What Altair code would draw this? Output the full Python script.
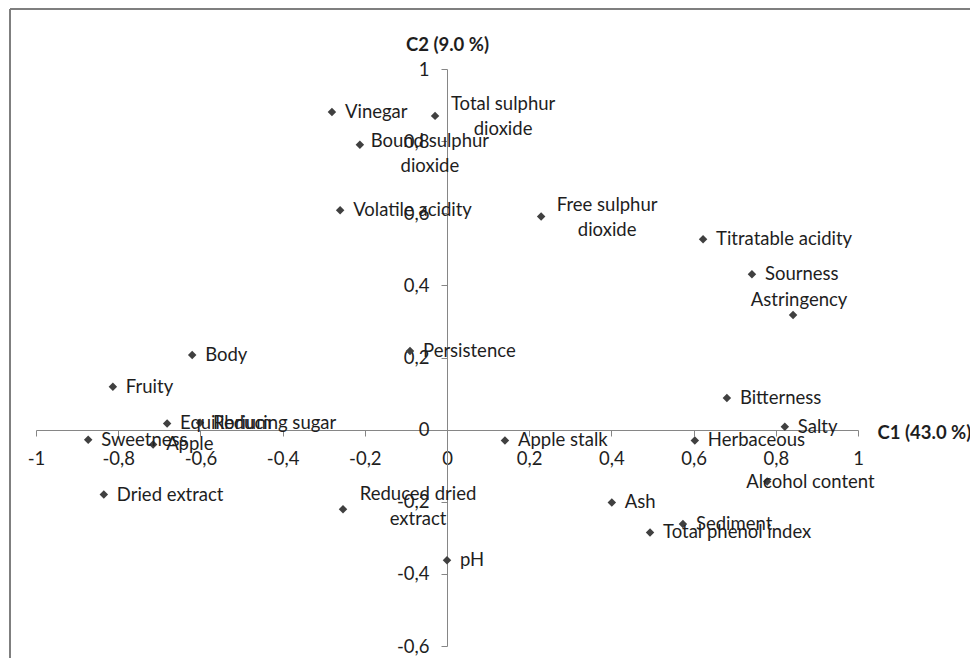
import altair as alt
import pandas as pd

# ---- data ----
names = [
    "Vinegar", "Total sulphur dioxide", "Bound sulphur dioxide", "Volatile acidity",
    "Free sulphur dioxide", "Titratable acidity", "Sourness", "Astringency",
    "Persistence", "Body", "Fruity", "Bitterness", "Equilibrium", "Reducing sugar",
    "Salty", "Sweetness", "Apple stalk", "Herbaceous", "Apple", "Alcohol content",
    "Dried extract", "Ash", "Reduced dried extract", "Sediment",
    "Total phenol index", "pH",
]
c1 = [
    -0.280, -0.029, -0.212, -0.260,
    0.229, 0.623, 0.742, 0.842,
    -0.090, -0.620, -0.813, 0.681, -0.681, -0.601,
    0.822, -0.873, 0.141, 0.603, -0.715, 0.779,
    -0.835, 0.401, -0.253, 0.574,
    0.494, 0.000,
]
c2 = [
    0.881, 0.870, 0.790, 0.608,
    0.591, 0.528, 0.431, 0.318,
    0.218, 0.207, 0.119, 0.088, 0.017, 0.019,
    0.008, -0.028, -0.030, -0.030, -0.041, -0.144,
    -0.180, -0.202, -0.221, -0.262,
    -0.285, -0.362,
]
x_ticks = [-1, -0.8, -0.6, -0.4, -0.2, 0, 0.2, 0.4, 0.6, 0.8, 1]
y_ticks = [-0.6, -0.4, -0.2, 0, 0.2, 0.4, 0.6, 0.8, 1]
x_title = "C1 (43.0 %)"
y_title = "C2 (9.0 %)"

two_line = ["Total sulphur dioxide", "Bound sulphur dioxide",
            "Free sulphur dioxide", "Reduced dried extract"]
special = ["Astringency", "Alcohol content"]

df = pd.DataFrame({"name": names, "c1": c1, "c2": c2})
df["label"] = [
    (n.rsplit(" ", 1)[0] + "\n" + n.rsplit(" ", 1)[1]) if n in two_line else n
    for n in names
]

# ---- styling ----
W, H = 822, 577
TOP = 61
X_OFF = -round(H * 0.6 / 1.6)   # x axis crosses at c2 = 0
FONT = "Lato"
FS = 18.5
TXT = "#1e1e1e"
AXC = "#868686"
label_expr = ("datum.value == 0 ? '0' : "
              "replace(toString(round(datum.value * 10) / 10), '.', ',')")

x_enc = alt.X(
    "c1:Q",
    scale=alt.Scale(domain=[-1, 1], nice=False, zero=False),
    axis=alt.Axis(
        orient="bottom", offset=X_OFF, values=x_ticks, labelExpr=label_expr,
        grid=False, domainColor=AXC, tickColor=AXC, tickSize=6, labelPadding=13,
        labelFont=FONT, labelFontSize=FS, labelColor=TXT,
        labelOverlap=False, labelFlush=False, labelBound=False,
        title=x_title, titleFont=FONT, titleFontSize=FS, titleFontWeight="bold",
        titleColor=TXT, titleX=841, titleY=2, titleAlign="left",
        titleBaseline="middle", titleAngle=0,
    ),
)
y_enc = alt.Y(
    "c2:Q",
    scale=alt.Scale(domain=[-0.6, 1], nice=False, zero=False),
    axis=alt.Axis(
        orient="left", offset=-411, values=y_ticks, labelExpr=label_expr,
        grid=False, domainColor=AXC, tickColor=AXC, tickSize=6, labelPadding=12,
        labelFont=FONT, labelFontSize=FS, labelColor=TXT,
        labelOverlap=False, labelFlush=False, labelBound=False,
        title=y_title, titleFont=FONT, titleFontSize=FS, titleFontWeight="bold",
        titleColor=TXT, titleX=0, titleY=-25, titleAlign="center",
        titleBaseline="middle", titleAngle=0,
    ),
)

base = alt.Chart(df).encode(x=x_enc, y=y_enc)

points = base.mark_point(shape="diamond", filled=True, size=72,
                         color="#404040", opacity=1)

text_kw = dict(font=FONT, fontSize=FS, color=TXT, baseline="middle")

labels_right = base.transform_filter(
    ~alt.FieldOneOfPredicate(field="name", oneOf=two_line + special)
).mark_text(align="left", dx=13, **text_kw).encode(text="label:N")

two_line_offsets = {
    "Total sulphur dioxide": (68, -12),
    "Bound sulphur dioxide": (70, -4),
    "Free sulphur dioxide": (66, -11),
    "Reduced dried extract": (75, -15),
}
two_line_layers = [
    base.transform_filter(alt.datum.name == n)
    .mark_text(align="center", dx=dx, dy=dy, lineBreak="\n", lineHeight=25, **text_kw)
    .encode(text="label:N")
    for n, (dx, dy) in two_line_offsets.items()
]

astr = base.transform_filter(alt.datum.name == "Astringency").mark_text(
    align="center", dx=6, dy=-15, **text_kw).encode(text="label:N")
alco = base.transform_filter(alt.datum.name == "Alcohol content").mark_text(
    align="left", dx=-21, dy=0, **text_kw).encode(text="label:N")

frame_top = alt.Chart(df).mark_rule(color="#7f7f7f", strokeWidth=2).encode(
    x=alt.value(-26), x2=alt.value(W + 200), y=alt.value(9 - 8 - TOP))
frame_left = alt.Chart(df).mark_rule(color="#7f7f7f", strokeWidth=2).encode(
    x=alt.value(-26), y=alt.value(9 - 8 - TOP), y2=alt.value(H + 100))

chart = alt.layer(
    frame_top, frame_left, points, labels_right, *two_line_layers, astr, alco
).properties(
    width=W, height=H,
    autosize=alt.AutoSizeParams(type="none"),
    padding={"left": 28, "top": TOP, "right": 112, "bottom": 12},
).configure(background="white").configure_view(stroke=None)

chart.save("out.html", embed_options={"renderer": "svg", "actions": False})
